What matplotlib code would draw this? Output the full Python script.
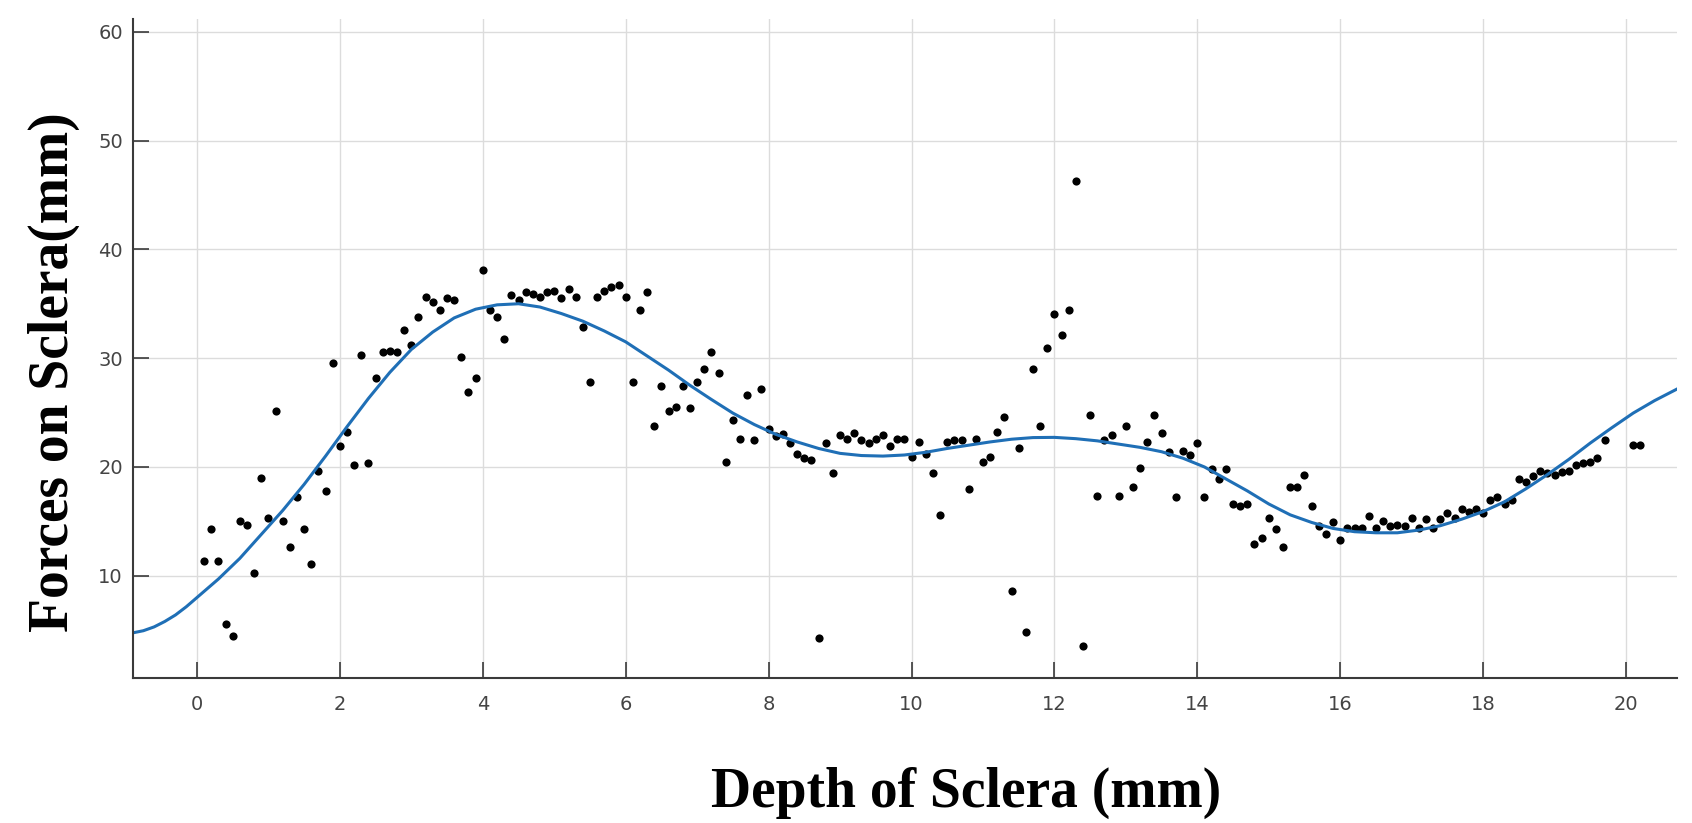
import matplotlib.pyplot as plt

# profundidad (mm) de cada medida
depth = [0.1, 0.2, 0.3, 0.4, 0.5, 0.6, 0.7, 0.8, 0.9, 1.0,
         1.1, 1.2, 1.3, 1.4, 1.5, 1.6, 1.7, 1.8, 1.9, 2.0,
         2.1, 2.2, 2.3, 2.4, 2.5, 2.6, 2.7, 2.8, 2.9, 3.0,
         3.1, 3.2, 3.3, 3.4, 3.5, 3.6, 3.7, 3.8, 3.9, 4.0,
         4.1, 4.2, 4.3, 4.4, 4.5, 4.6, 4.7, 4.8, 4.9, 5.0,
         5.1, 5.2, 5.3, 5.4, 5.5, 5.6, 5.7, 5.8, 5.9, 6.0,
         6.1, 6.2, 6.3, 6.4, 6.5, 6.6, 6.7, 6.8, 6.9, 7.0,
         7.1, 7.2, 7.3, 7.4, 7.5, 7.6, 7.7, 7.8, 7.9, 8.0,
         8.1, 8.2, 8.3, 8.4, 8.5, 8.6, 8.7, 8.8, 8.9, 9.0,
         9.1, 9.2, 9.3, 9.4, 9.5, 9.6, 9.7, 9.8, 9.9, 10.0,
         10.1, 10.2, 10.3, 10.4, 10.5, 10.6, 10.7, 10.8, 10.9, 11.0,
         11.1, 11.2, 11.3, 11.4, 11.5, 11.6, 11.7, 11.8, 11.9, 12.0,
         12.1, 12.2, 12.3, 12.4, 12.5, 12.6, 12.7, 12.8, 12.9, 13.0,
         13.1, 13.2, 13.3, 13.4, 13.5, 13.6, 13.7, 13.8, 13.9, 14.0,
         14.1, 14.2, 14.3, 14.4, 14.5, 14.6, 14.7, 14.8, 14.9, 15.0,
         15.1, 15.2, 15.3, 15.4, 15.5, 15.6, 15.7, 15.8, 15.9, 16.0,
         16.1, 16.2, 16.3, 16.4, 16.5, 16.6, 16.7, 16.8, 16.9, 17.0,
         17.1, 17.2, 17.3, 17.4, 17.5, 17.6, 17.7, 17.8, 17.9, 18.0,
         18.1, 18.2, 18.3, 18.4, 18.5, 18.6, 18.7, 18.8, 18.9, 19.0,
         19.1, 19.2, 19.3, 19.4, 19.5, 19.6, 19.7, 20.1, 20.2]

# fuerza medida en cada punto
force = [11.4, 14.3, 11.4, 5.6, 4.5, 15.0, 14.7, 10.3, 19.0, 15.3,
         25.1, 15.0, 12.6, 17.2, 14.3, 11.1, 19.6, 17.8, 29.6, 21.9,
         23.2, 20.2, 30.3, 20.4, 28.2, 30.6, 30.7, 30.6, 32.6, 31.2,
         33.8, 35.6, 35.2, 34.4, 35.5, 35.3, 30.1, 26.9, 28.2, 38.1,
         34.4, 33.8, 31.8, 35.8, 35.3, 36.1, 35.9, 35.6, 36.1, 36.2,
         35.5, 36.4, 35.6, 32.9, 27.8, 35.6, 36.2, 36.5, 36.7, 35.6,
         27.8, 34.4, 36.1, 23.8, 27.4, 25.1, 25.5, 27.4, 25.4, 27.8,
         29.0, 30.6, 28.6, 20.5, 24.3, 22.6, 26.6, 22.5, 27.2, 23.5,
         22.8, 23.0, 22.2, 21.2, 20.8, 20.6, 4.3, 22.2, 19.4, 22.9,
         22.6, 23.1, 22.5, 22.2, 22.6, 22.9, 21.9, 22.6, 22.6, 20.9,
         22.3, 21.2, 19.4, 15.6, 22.3, 22.5, 22.5, 18.0, 22.6, 20.5,
         20.9, 23.2, 24.6, 8.6, 21.7, 4.8, 29.0, 23.8, 30.9, 34.1,
         32.1, 34.4, 46.3, 3.5, 24.8, 17.3, 22.5, 22.9, 17.3, 23.8,
         18.2, 19.9, 22.3, 24.8, 23.1, 21.4, 17.2, 21.5, 21.1, 22.2,
         17.2, 19.8, 18.9, 19.8, 16.6, 16.4, 16.6, 12.9, 13.5, 15.3,
         14.3, 12.6, 18.2, 18.2, 19.3, 16.4, 14.6, 13.8, 14.9, 13.3,
         14.4, 14.4, 14.4, 15.5, 14.4, 15.0, 14.6, 14.7, 14.6, 15.3,
         14.4, 15.2, 14.4, 15.2, 15.8, 15.3, 16.1, 15.9, 16.1, 15.8,
         17.0, 17.2, 16.6, 17.0, 18.9, 18.6, 19.2, 19.6, 19.4, 19.3,
         19.5, 19.6, 20.2, 20.4, 20.5, 20.8, 22.5, 22.0, 22.0]

# curva de ajuste
fit_x = [-0.9, -0.75, -0.6, -0.45, -0.3, -0.15, 0.0, 0.3, 0.6, 0.9, 1.2, 1.5, 1.8,
         2.1, 2.4, 2.7, 3.0, 3.3, 3.6, 3.9, 4.2, 4.5, 4.8,
         5.1, 5.4, 5.7, 6.0, 6.3, 6.6, 6.9, 7.2, 7.5, 7.8,
         8.1, 8.4, 8.7, 9.0, 9.3, 9.6, 9.9, 10.2, 10.5, 10.8,
         11.1, 11.4, 11.7, 12.0, 12.3, 12.6, 12.9, 13.2, 13.5, 13.8,
         14.1, 14.4, 14.7, 15.0, 15.3, 15.6, 15.9, 16.2, 16.5, 16.8,
         17.1, 17.4, 17.7, 18.0, 18.3, 18.6, 18.9, 19.2, 19.5, 19.8,
         20.1, 20.4, 20.71]
fit_y = [4.75, 4.95, 5.3, 5.8, 6.4, 7.15, 8.0, 9.7, 11.6, 13.8, 16.0, 18.4, 21.0,
         23.7, 26.3, 28.7, 30.8, 32.4, 33.7, 34.5, 34.9, 35.0, 34.7,
         34.1, 33.4, 32.5, 31.5, 30.2, 28.9, 27.5, 26.2, 24.95, 23.9,
         23.0, 22.3, 21.7, 21.25, 21.05, 21.0, 21.1, 21.35, 21.7, 22.0,
         22.3, 22.55, 22.7, 22.72, 22.6, 22.4, 22.1, 21.8, 21.4, 20.8,
         20.0, 18.9, 17.8, 16.6, 15.6, 14.9, 14.35, 14.05, 13.95, 13.95,
         14.2, 14.6, 15.2, 15.9, 16.8, 18.0, 19.3, 20.7, 22.2, 23.6,
         24.95, 26.1, 27.15]

xticks = [0, 2, 4, 6, 8, 10, 12, 14, 16, 18, 20]
yticks = [10, 20, 30, 40, 50, 60]

fig = plt.figure(figsize=(16.92, 8.23), dpi=100)
ax = fig.add_axes([0.0784, 0.1756, 0.9126, 0.8013])

ax.plot(depth, force, 'o', color='black', markersize=5.9, markeredgewidth=0)
ax.plot(fit_x, fit_y, color='#1f6fb6', linewidth=2.2)

ax.set_xlim(-0.9, 20.71)
ax.set_ylim(0.56, 61.17)
ax.set_xticks(xticks)
ax.set_yticks(yticks)
ax.grid(True, color='#dcdcdc', linewidth=1.0)
ax.set_axisbelow(True)

for s in ['top', 'right']:
    ax.spines[s].set_visible(False)
for s in ['left', 'bottom']:
    ax.spines[s].set_color('#3a3a3a')
    ax.spines[s].set_linewidth(1.5)

ax.tick_params(axis='both', direction='in', length=11.3, width=1.1,
               color='#2a2a2a', labelcolor='#444444', labelsize=14)
ax.tick_params(axis='y', pad=7)
ax.tick_params(axis='x', pad=12)

fig.text(0.032, 0.548, 'Forces on Sclera(mm)', rotation=90, ha='center', va='center',
         family='Liberation Serif', fontweight='bold', fontsize=40)
fig.text(0.571, 0.0194, 'Depth of Sclera (mm)', ha='center', va='baseline',
         family='Liberation Serif', fontweight='bold', fontsize=40)

fig.savefig('out.png', dpi=100)
